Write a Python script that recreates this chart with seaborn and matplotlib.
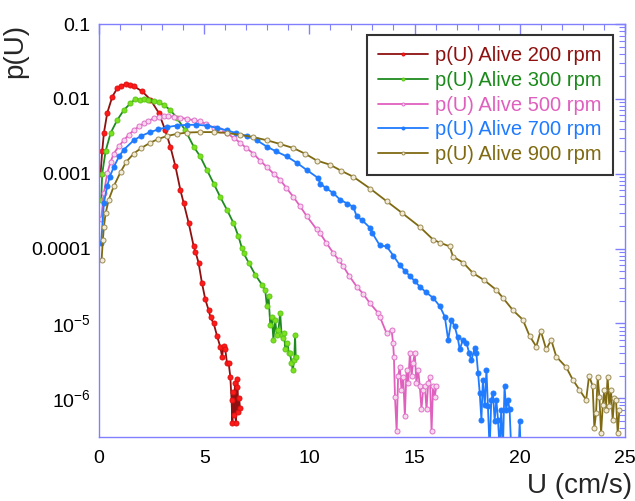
import numpy as np
import pandas as pd
import matplotlib
matplotlib.use("Agg")
import matplotlib.pyplot as plt
import matplotlib.ticker as mticker
import seaborn as sns

# ---------------- data ----------------
u_200 = [0.07, 0.15, 0.23, 0.39, 0.63, 0.86, 1.05, 1.26, 1.45, 1.65, 2.05, 2.44, 2.84, 3.15,
         3.39, 3.63, 3.87, 4.02, 4.26, 4.50, 4.58, 4.73, 4.89, 5.05, 5.21, 5.30, 5.45, 5.61,
         5.76, 5.85, 5.92, 6.00, 6.08, 6.16, 6.24, 6.30, 6.34, 6.38, 6.42, 6.46, 6.50, 6.54,
         6.58, 6.62, 6.66, 6.70]
p_200 = [1.0e-3, 2.0e-3, 3.5e-3, 6.5e-3, 1.07e-2, 1.38e-2, 1.5e-2, 1.57e-2, 1.55e-2, 1.48e-2,
         1.26e-2, 9.8e-3, 6.5e-3, 3.8e-3, 2.3e-3, 1.26e-3, 6.0e-4, 4.1e-4, 2.2e-4, 1.07e-4,
         9.1e-5, 6.5e-5, 3.5e-5, 2.1e-5, 1.5e-5, 1.2e-5, 1.0e-5, 6.8e-6, 4.9e-6, 3.6e-6,
         5.0e-6, 4.5e-6, 3.0e-6, 3.0e-6, 1.95e-6, 9.5e-7, 4.7e-7, 1.2e-6, 6.0e-7, 1.6e-6,
         4.7e-7, 1.4e-6, 1.8e-6, 6.5e-7, 1.0e-6, 7.5e-7]

u_300 = [0.10, 0.15, 0.31, 0.55, 0.86, 1.18, 1.49, 1.73, 1.95, 2.13, 2.35, 2.60, 2.85, 3.07,
         3.39, 3.71, 4.10, 4.50, 4.81, 5.13, 5.45, 5.76, 6.08, 6.39, 6.63, 6.79, 6.87, 7.11,
         7.42, 7.74, 7.90, 7.98, 8.06, 8.14, 8.22, 8.29, 8.37, 8.45, 8.53, 8.61, 8.68, 8.74,
         8.80, 8.85, 8.96, 9.02, 9.08, 9.15, 9.21, 9.28, 9.32, 9.35]
p_300 = [4.4e-4, 1.0e-3, 2.0e-3, 3.5e-3, 5.2e-3, 7.1e-3, 8.7e-3, 1.0e-2, 9.7e-3, 9.9e-3,
         9.6e-3, 9.5e-3, 9.0e-3, 8.3e-3, 7.1e-3, 5.5e-3, 3.8e-3, 2.3e-3, 1.7e-3, 1.12e-3,
         7.4e-4, 4.9e-4, 3.3e-4, 2.2e-4, 1.45e-4, 1.02e-4, 8.7e-5, 6.5e-5, 4.5e-5, 3.3e-5,
         2.8e-5, 1.7e-5, 2.3e-5, 9.5e-6, 1.2e-5, 6.0e-6, 1.12e-5, 7.0e-6, 8.1e-6, 1.38e-5,
         7.0e-6, 6.3e-6, 7.5e-6, 4.5e-6, 5.5e-6, 4.0e-6, 4.0e-6, 3.0e-6, 2.4e-6, 3.2e-6,
         7.1e-6, 3.6e-6]

u_500 = [0.10, 0.23, 0.39, 0.55, 0.70, 0.95, 1.18, 1.40, 1.65, 1.90, 2.13, 2.35, 2.60, 2.85,
         3.07, 3.30, 3.55, 3.85, 4.18, 4.50, 4.81, 5.10, 5.45, 5.75, 6.08, 6.40, 6.71, 7.00,
         7.34, 7.65, 7.98, 8.30, 8.61, 8.90, 9.24, 9.55, 9.88, 10.35, 10.51, 10.80, 11.14,
         11.40, 11.61, 11.90, 12.25, 12.55, 12.88, 13.27,
         13.35, 13.67, 13.91, 13.98, 14.02, 14.07, 14.15, 14.22, 14.30, 14.38, 14.46, 14.54,
         14.62, 14.70, 14.78, 14.86, 14.93, 15.01, 15.09, 15.17, 15.25, 15.33, 15.41, 15.49,
         15.57, 15.65, 15.73, 15.81, 15.88, 15.96, 16.04]
p_500 = [2.5e-4, 5.5e-4, 1.02e-3, 1.45e-3, 1.86e-3, 2.35e-3, 2.8e-3, 3.3e-3, 3.8e-3, 4.3e-3,
         4.7e-3, 5.1e-3, 5.5e-3, 5.8e-3, 5.9e-3, 5.9e-3, 5.75e-3, 5.6e-3, 5.4e-3, 5.2e-3,
         5.0e-3, 4.6e-3, 4.1e-3, 3.8e-3, 3.5e-3, 3.0e-3, 2.6e-3, 2.2e-3, 1.86e-3, 1.5e-3,
         1.23e-3, 1.0e-3, 8.3e-4, 6.5e-4, 4.9e-4, 3.7e-4, 2.7e-4, 1.8e-4, 1.6e-4, 1.2e-4,
         8.7e-5, 7.0e-5, 5.8e-5, 4.3e-5, 3.1e-5, 2.5e-5, 1.86e-5, 1.38e-5,
         1.23e-5, 7.4e-6, 8.1e-6, 5.5e-6, 3.6e-6, 1.05e-6, 3.6e-7, 2.0e-6, 2.6e-6, 1.3e-6,
         1.95e-6, 5.8e-7, 2.4e-6, 1.6e-6, 4.0e-6, 2.0e-6, 2.95e-6, 4.0e-6, 1.6e-6, 2.4e-6,
         1.45e-6, 7.1e-7, 1.3e-6, 1.45e-6, 7.1e-7, 1.6e-6, 1.95e-6, 3.6e-7, 1.45e-6, 1.05e-6,
         1.45e-6]

u_700 = [0.10, 0.23, 0.39, 0.50, 0.70, 0.95, 1.18, 1.65, 2.00, 2.44, 2.80, 3.24, 3.70, 4.18,
         4.60, 5.13, 5.60, 6.08, 6.50, 7.03, 7.50, 7.98, 8.40, 8.93, 9.40, 9.88, 10.43, 10.51,
         10.80, 11.14, 11.46, 11.80, 12.09, 12.25, 12.50, 12.88, 13.00, 13.35, 13.67, 14.00,
         14.30, 14.55, 14.78, 15.00, 15.25, 15.55, 15.88, 16.20, 16.44, 16.60, 16.75, 16.91,
         17.05, 17.15, 17.30, 17.47, 17.60, 17.70, 17.86, 17.94, 18.02, 18.10, 18.18, 18.25,
         18.34, 18.42, 18.49, 18.57, 18.65, 18.73, 18.81, 18.89, 18.97, 19.05, 19.12, 19.20,
         19.28, 19.36, 19.44, 19.52, 19.60, 19.95, 20.00, 20.05]
p_700 = [1.2e-4, 4.1e-4, 6.8e-4, 9.0e-4, 1.23e-3, 1.7e-3, 2.1e-3, 2.8e-3, 3.2e-3, 3.6e-3,
         3.9e-3, 4.2e-3, 4.4e-3, 4.5e-3, 4.5e-3, 4.4e-3, 4.1e-3, 3.8e-3, 3.5e-3, 3.2e-3,
         2.8e-3, 2.3e-3, 2.0e-3, 1.7e-3, 1.4e-3, 1.12e-3, 8.7e-4, 7.4e-4, 6.4e-4, 5.5e-4,
         4.5e-4, 4.0e-4, 3.6e-4, 2.7e-4, 2.4e-4, 1.9e-4, 1.6e-4, 1.1e-4, 1.07e-4, 8.0e-5,
         6.0e-5, 5.0e-5, 4.3e-5, 3.7e-5, 3.1e-5, 2.6e-5, 2.2e-5, 1.7e-5, 1.23e-5, 6.0e-6,
         1.1e-5, 9.1e-6, 6.5e-6, 4.5e-6, 6.0e-6, 5.5e-6, 4.0e-6, 3.2e-6, 4.7e-6, 4.0e-6,
         2.2e-6, 1.17e-6, 5.1e-7, 1.78e-6, 8.0e-7, 2.4e-6, 7.8e-7, 2.0e-7, 9.5e-7, 1.17e-6,
         5.0e-7, 9.5e-7, 5.1e-7, 2.0e-7, 7.0e-7, 2.0e-7, 1.45e-6, 7.0e-7, 9.5e-7, 7.1e-7,
         2.0e-7, 2.0e-7, 4.9e-7, 2.0e-7]

u_900 = [0.12, 0.18, 0.23, 0.31, 0.46, 0.70, 1.02, 1.30, 1.65, 2.00, 2.44, 2.80, 3.24, 3.70,
         4.18, 4.80, 5.45, 6.10, 6.71, 7.30, 7.98, 8.60, 9.24, 9.80, 10.35, 10.98, 11.50,
         12.09, 12.90, 13.67, 14.40, 15.25, 15.88, 16.20, 16.67, 16.83, 17.31, 17.78, 18.30,
         18.89, 19.20, 19.68, 20.15, 20.47, 20.79, 21.00, 21.26, 21.50, 21.74, 22.21, 22.52,
         22.84, 23.16, 23.30, 23.47, 23.55, 23.63, 23.71, 23.79, 23.87, 23.95, 24.02, 24.10,
         24.18, 24.26, 24.34, 24.42, 24.50, 24.58, 24.66, 24.74]
p_900 = [7.0e-5, 1.3e-4, 1.95e-4, 2.95e-4, 4.5e-4, 6.8e-4, 1.05e-3, 1.45e-3, 1.86e-3, 2.2e-3,
         2.6e-3, 2.9e-3, 3.2e-3, 3.4e-3, 3.55e-3, 3.6e-3, 3.6e-3, 3.5e-3, 3.3e-3, 3.1e-3,
         2.8e-3, 2.5e-3, 2.2e-3, 1.85e-3, 1.5e-3, 1.32e-3, 1.1e-3, 9.1e-4, 6.3e-4, 4.3e-4,
         3.0e-4, 1.95e-4, 1.32e-4, 1.2e-4, 1.07e-4, 7.8e-5, 6.5e-5, 4.7e-5, 3.8e-5, 2.8e-5,
         2.2e-5, 1.5e-5, 1.12e-5, 6.8e-6, 4.9e-6, 8.0e-6, 4.5e-6, 6.0e-6, 3.6e-6, 2.6e-6,
         1.78e-6, 1.3e-6, 9.5e-7, 2.0e-6, 1.45e-6, 4.0e-7, 6.3e-7, 1.9e-6, 1.05e-6, 3.4e-7,
         8.0e-7, 1.3e-6, 7.0e-7, 1.95e-6, 7.8e-7, 1.3e-6, 5.1e-7, 1.0e-6, 9.5e-7, 3.4e-7,
         7.0e-7]

labels = ["p(U) Alive 200 rpm", "p(U) Alive 300 rpm", "p(U) Alive 500 rpm",
          "p(U) Alive 700 rpm", "p(U) Alive 900 rpm"]
x_ticks = [0, 5, 10, 15, 20, 25]
y_ticks = [1e-6, 1e-5, 1e-4, 1e-3, 1e-2, 1e-1]

series = [(u_200, p_200), (u_300, p_300), (u_500, p_500), (u_700, p_700), (u_900, p_900)]

# ---------------- styles ----------------
line_colors = ["#8e1010", "#1f8a1f", "#e060be", "#1f7bff", "#7f6a12"]
marker_face = ["#ff1a1a", "#7be01e", "#f6d8ee", "#1f7bff", "#f2ecd8"]
marker_edge = ["#e01010", "#5cc81a", "#e070c8", "#1f7bff", "#9a8a50"]
text_colors = ["#8e1010", "#1a8a1a", "#e060be", "#1f7bff", "#7f6a12"]

sns.set_style("white")
plt.rcParams["font.family"] = ["Liberation Sans", "DejaVu Sans"]
plt.rcParams["mathtext.fontset"] = "custom"
plt.rcParams["mathtext.rm"] = "Liberation Sans"
plt.rcParams["mathtext.it"] = "Liberation Sans"

fig = plt.figure(figsize=(6.35, 5.01), dpi=100)
ax = fig.add_axes([0.156, 0.127, 0.828, 0.825])

frames = []
for lab, (u, p) in zip(labels, series):
    frames.append(pd.DataFrame({"U": u, "p": p, "series": lab}))
df = pd.concat(frames, ignore_index=True)

for i, lab in enumerate(labels):
    sub = df[df["series"] == lab]
    sns.lineplot(data=sub, x="U", y="p", ax=ax, color=line_colors[i], lw=1.3,
                 marker="o", markersize=3.6, markerfacecolor=marker_face[i],
                 markeredgecolor=marker_edge[i], markeredgewidth=0.7,
                 estimator=None, sort=False, label=lab)

ax.set_yscale("log")
ax.set_xlim(0, 25)
ax.set_ylim(3e-7, 0.1)

spine_c = "#8080ff"
for s in ax.spines.values():
    s.set_color(spine_c)
    s.set_linewidth(1.0)

ax.set_xticks(x_ticks)
ax.xaxis.set_minor_locator(mticker.MultipleLocator(1))
ax.set_yticks(y_ticks)
ax.yaxis.set_minor_locator(mticker.LogLocator(base=10, subs=np.arange(2, 10)))
ax.yaxis.set_minor_formatter(mticker.NullFormatter())

def yfmt(v, pos):
    e = int(round(np.log10(v)))
    if e >= -4:
        return {-1: "0.1", -2: "0.01", -3: "0.001", -4: "0.0001"}[e]
    return r"$\mathregular{10^{%d}}$" % e

ax.yaxis.set_major_formatter(mticker.FuncFormatter(yfmt))
ax.tick_params(which="both", direction="in", top=True, right=True, color=spine_c,
               labelsize=14, labelcolor="black")
ax.tick_params(which="major", length=7, width=1.0, pad=6)
ax.tick_params(which="minor", length=4, width=0.8)
ax.tick_params(axis="x", which="major", pad=9)

ax.set_xlabel("U (cm/s)", fontsize=20, ha="right")
ax.xaxis.set_label_coords(1.013, -0.085)
ax.set_ylabel("p(U)", fontsize=20)
ax.yaxis.set_label_coords(-0.135, 0.935)

leg = ax.legend(loc="upper right", bbox_to_anchor=(0.977, 0.973), borderaxespad=0.0,
                fontsize=14.5, frameon=True, fancybox=False, edgecolor="black",
                handlelength=2.5, handletextpad=0.35, borderpad=0.55, labelspacing=0.28,
                markerscale=0.6)
leg.get_frame().set_linewidth(1.5)
for t, c in zip(leg.get_texts(), text_colors):
    t.set_color(c)

fig.savefig("out.png", dpi=100)
